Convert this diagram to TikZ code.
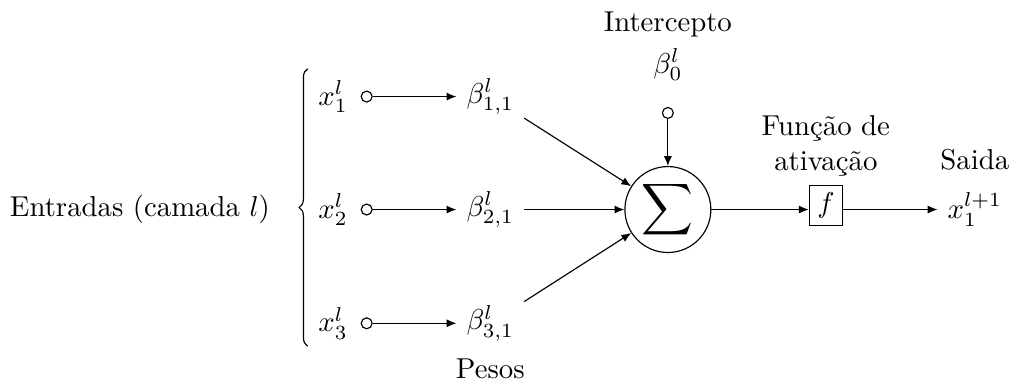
\documentclass[tikz,border=0pt]{standalone}
\usepackage{amsmath,amssymb}
\usetikzlibrary{positioning,arrows.meta,decorations.pathreplacing}

\begin{document}
\begin{tikzpicture}[x=1cm,y=1cm, >={Latex[length=3.4pt,width=2.8pt]},
  inp/.style={draw,circle,inner sep=0pt,minimum size=3.8pt}]
\useasboundingbox (-8.16,-2.15) rectangle (4.29,2.56);
% soma
\node[draw,circle,minimum size=1.05cm,inner sep=0pt] (sum) at (0,0) {\scalebox{1.25}{$\displaystyle\sum$}};
% entradas e pesos
\node (x1) at (-4.09,1.38) {$x^l_1$};
\node[inp] (c1) at (-3.68,1.38) {};
\node (b1) at (-2.17,1.38) {$\beta^l_{1,1}$};
\node (x2) at (-4.09,0) {$x^l_2$};
\node[inp] (c2) at (-3.68,0) {};
\node (b2) at (-2.17,0) {$\beta^l_{2,1}$};
\node (x3) at (-4.09,-1.39) {$x^l_3$};
\node[inp] (c3) at (-3.68,-1.39) {};
\node (b3) at (-2.17,-1.39) {$\beta^l_{3,1}$};
\draw[->] (c1) -- (b1);
\draw[->] (c2) -- (b2);
\draw[->] (c3) -- (b3);
\draw[->] (b1) -- (sum);
\draw[->] (b2) -- (sum);
\draw[->] (b3) -- (sum);
\node (pesos) at (-2.17,-1.95) {Pesos};
\node (ent) at (-6.45,0) {Entradas (camada $l$)};
\draw[decorate,decoration={brace,amplitude=3pt}] (-4.40,-1.67) -- (-4.40,1.72);
% intercepto
\node[inp] (c0) at (0,1.18) {};
\node (b0) at (0,1.77) {$\beta^l_0$};
\node (icpt) at (0,2.26) {Intercepto};
\draw[->] (c0) -- (sum);
% ativacao e saida
\node[draw,inner xsep=2.8pt,inner ysep=2.4pt] (act) at (1.93,0.05) {$f$};
\node[align=center] (fa) at (1.93,0.78) {Função de\\ativação};
\node (out) at (3.75,0) {$x^{l+1}_1$};
\node (saida) at (3.75,0.61) {Saida};
\draw[->] (sum) -- (sum -| act.west);
\draw[->] (act.east |- sum) -- (out);
\end{tikzpicture}
\end{document}
